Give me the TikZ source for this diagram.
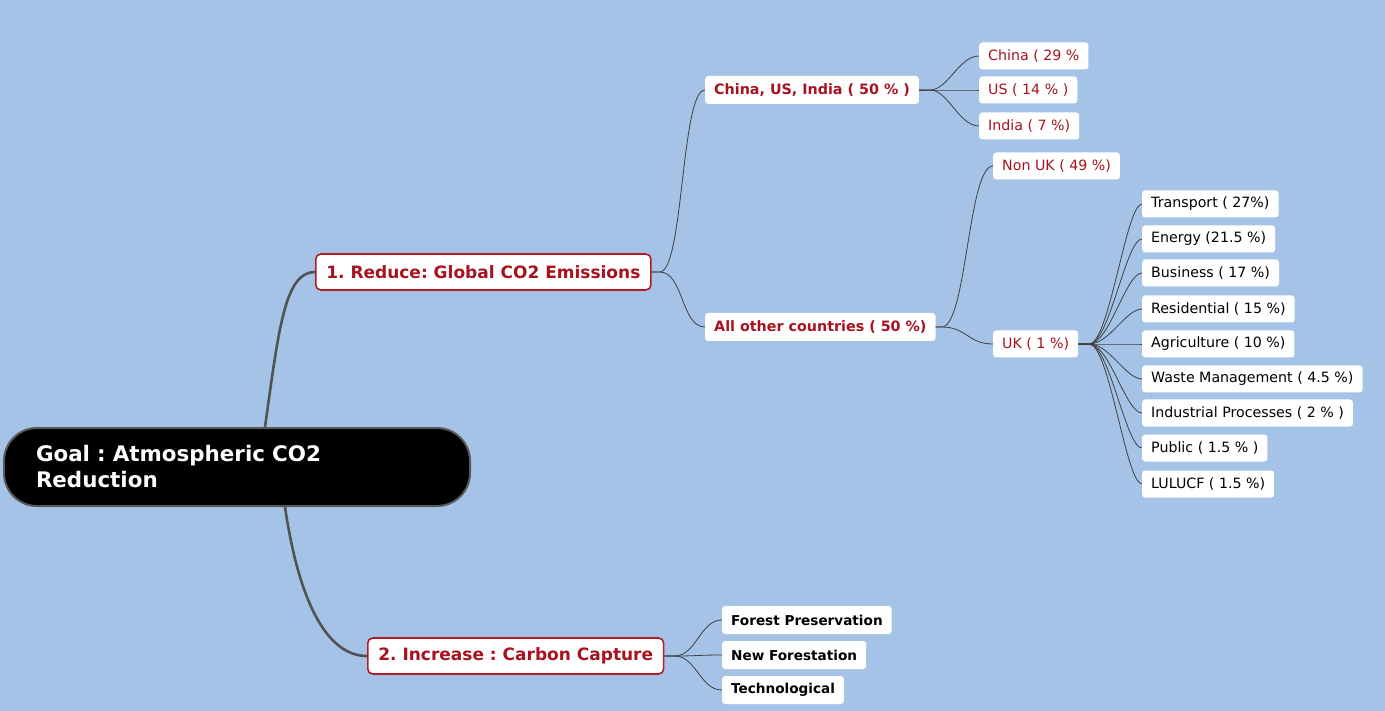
\documentclass[tikz,border=0pt]{standalone}
\usepackage{fontspec}
\setmainfont{DejaVu Sans}
\definecolor{bgblue}{RGB}{165,195,231}
\definecolor{myred}{RGB}{168,18,30}
\definecolor{bordred}{RGB}{178,28,40}
\definecolor{linegray}{RGB}{64,64,64}
\tikzset{
  leaf/.style={fill=white, rounded corners=3pt, anchor=west, inner xsep=9pt, inner ysep=0pt,
    minimum height=27pt, font=\fontsize{14.2}{16}\selectfont},
  redleaf/.style={leaf, text=myred},
  blackleaf/.style={leaf, text=black},
  redbold/.style={leaf, text=myred, font=\bfseries\fontsize{14.3}{16}\selectfont, minimum height=28pt},
  blackbold/.style={leaf, text=black, font=\bfseries\fontsize{13.6}{16}\selectfont, minimum height=28pt},
  mainbox/.style={draw=bordred, line width=1.6pt, fill=white, rounded corners=5pt, anchor=west,
    inner xsep=10.5pt, inner ysep=0pt, minimum height=36pt, text=myred,
    font=\bfseries\fontsize{17}{20}\selectfont},
  rootbox/.style={draw=black!65, line width=2pt, fill=black, rounded corners=33pt, text=white,
    font=\bfseries\fontsize{21.4}{26}\selectfont, align=left, text width=402pt, inner xsep=32pt,
    minimum height=78pt},
  link/.style={draw=linegray, line width=0.8pt},
  thicklink/.style={draw=linegray!90, line width=2.6pt}
}
\frenchspacing
\begin{document}
\frenchspacing
\begin{tikzpicture}[x=1pt,y=-1pt]
\fill[bgblue] (0,0) rectangle (1385,711);
\useasboundingbox (0,0) rectangle (1385,711);

% root
\node[rootbox] (root) at (237,467) {Goal : Atmospheric CO2\\Reduction};

% main branches
\node[mainbox] (n1) at (315,272) {1. Reduce: Global CO2 Emissions};
\node[mainbox] (n2) at (367,656) {2. Increase : Carbon Capture};

% level 2
\node[redbold] (a) at (705,90) {China, US, India ( 50 \% )};
\node[redbold] (b) at (705,327) {All other countries ( 50 \%)};

\node[redleaf] (c1) at (979,56) {China ( 29 \%};
\node[redleaf] (c2) at (979,90) {US ( 14 \% )};
\node[redleaf] (c3) at (979,126) {India ( 7 \%)};

\node[redleaf] (nonuk) at (993,166) {Non UK ( 49 \%)};
\node[redleaf] (uk) at (993,344) {UK ( 1 \%)};

\node[blackleaf] (u1) at (1142,204) {Transport ( 27\%)};
\node[blackleaf] (u2) at (1142,239) {Energy (21.5 \%)};
\node[blackleaf] (u3) at (1142,273) {Business ( 17 \%)};
\node[blackleaf] (u4) at (1142,309) {Residential ( 15 \%)};
\node[blackleaf] (u5) at (1142,344) {Agriculture ( 10 \%)};
\node[blackleaf] (u6) at (1142,379) {Waste Management ( 4.5 \%)};
\node[blackleaf] (u7) at (1142,413) {Industrial Processes ( 2 \% )};
\node[blackleaf] (u8) at (1142,448) {Public ( 1.5 \% )};
\node[blackleaf] (u9) at (1142,484) {LULUCF ( 1.5 \%)};

\node[blackbold] (f1) at (722,620) {Forest Preservation};
\node[blackbold] (f2) at (722,655) {New Forestation};
\node[blackbold] (f3) at (722,690) {Technological};

% root connectors
\draw[thicklink] ([xshift=28pt]root.north) .. controls +(14,-100) and +(-30,0) .. (n1.west);
\draw[thicklink] ([xshift=48pt]root.south) .. controls +(14,95) and +(-40,0) .. (n2.west);

% node 1 connectors
\foreach \t in {a,b}
  \draw[link] (n1.east) -- ++(8,0) .. controls +(24,0) and +(-24,0) .. (\t.west);

\foreach \t in {c1,c2,c3}
  \draw[link] (a.east) -- ++(11,0) .. controls +(18,0) and +(-20,0) .. (\t.west);

\foreach \t in {nonuk,uk}
  \draw[link] (b.east) -- ++(6,0) .. controls +(25,0) and +(-25,0) .. (\t.west);

\foreach \t in {u1,u2,u3,u4,u5,u6,u7,u8,u9}
  \draw[link] (uk.east) -- ++(11,0) .. controls +(20,0) and +(-16,0) .. (\t.west);

\foreach \t in {f1,f2,f3}
  \draw[link] (n2.east) -- ++(10,0) .. controls +(22,0) and +(-22,0) .. (\t.west);
\end{tikzpicture}
\end{document}
